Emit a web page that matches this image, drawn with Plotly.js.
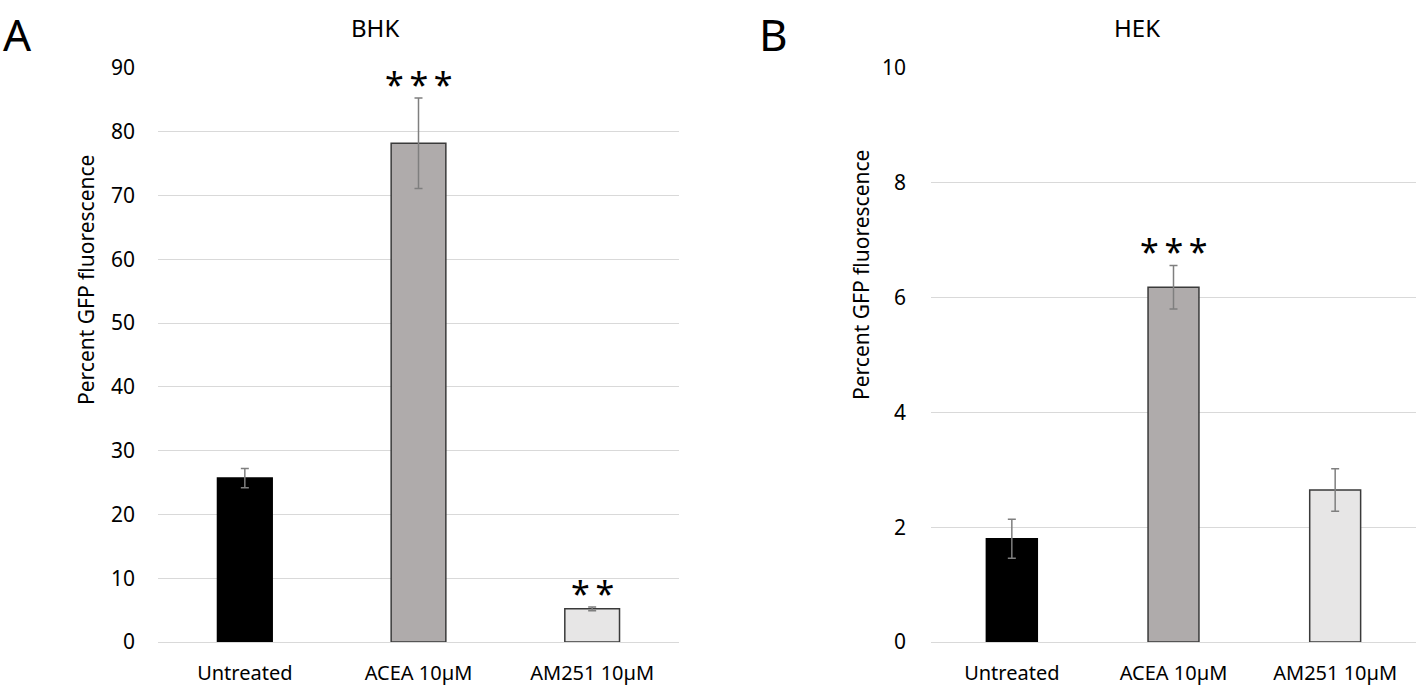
<!DOCTYPE html>
<html>
<head>
<meta charset="utf-8">
<script src="https://cdn.plot.ly/plotly-3.0.1.min.js"></script>
<style>html,body{margin:0;padding:0;background:#fff;}#chart{width:1418px;height:690px;}</style>
</head>
<body>
<div id="chart"></div>
<script>
const categories = ["Untreated", "ACEA 10µM", "AM251 10µM"];
const bhkValues = [25.7, 78.2, 5.2];
const bhkErrors = [1.5, 7.1, 0.3];
const hekValues = [1.80, 6.18, 2.65];
const hekErrors = [0.34, 0.38, 0.37];
const bhkStars = ["", "***", "**"];
const hekStars = ["", "***", ""];
const barColors = ["#000000", "#AFABAB", "#E7E6E6"];
const lineColors = ["#000000", "#3a3a3a", "#3a3a3a"];

const font = "Noto Sans, Open Sans, sans-serif";

function starText(s) { return s.split("").join("\u2009"); }

function barTrace(vals, errs, xa, ya) {
  return {
    type: "bar", x: categories, y: vals, xaxis: xa, yaxis: ya,
    width: 0.315,
    marker: {color: barColors, line: {color: lineColors, width: 1.5}},
    error_y: {type: "data", array: errs, visible: true, color: "#7f7f7f", thickness: 1.5, width: 4},
    hoverinfo: "skip", showlegend: false
  };
}

const data = [barTrace(bhkValues, bhkErrors, "x", "y"), barTrace(hekValues, hekErrors, "x2", "y2")];

const annotations = [];
categories.forEach((c, i) => {
  if (bhkStars[i]) annotations.push({x: c, y: bhkValues[i] + bhkErrors[i], xref: "x", yref: "y", text: starText(bhkStars[i]), showarrow: false, yanchor: "bottom", yshift: -11, font: {family: font, size: 34, color: "#000"}});
  if (hekStars[i]) annotations.push({x: c, y: hekValues[i] + hekErrors[i], xref: "x2", yref: "y2", text: starText(hekStars[i]), showarrow: false, yanchor: "bottom", yshift: -11, font: {family: font, size: 34, color: "#000"}});
});
annotations.push(
  {x: 0.0, y: 1.0, xref: "paper", yref: "paper", xanchor: "left", yanchor: "top", text: "A", showarrow: false, xshift: 1, yshift: 66, font: {family: font, size: 44, color: "#000"}},
  {x: 757/1418, y: 1.0, xref: "paper", yref: "paper", xanchor: "left", yanchor: "top", text: "B", showarrow: false, xshift: 0, yshift: 66, font: {family: font, size: 44, color: "#000"}},
  {x: 375/1418, y: 1.0, xref: "paper", yref: "paper", xanchor: "center", yanchor: "middle", text: "BHK", showarrow: false, yshift: 41, font: {family: font, size: 24, color: "#000"}},
  {x: 1137/1418, y: 1.0, xref: "paper", yref: "paper", xanchor: "center", yanchor: "middle", text: "HEK", showarrow: false, yshift: 41, font: {family: font, size: 24, color: "#000"}},
  {x: 86/1418, y: (642-280)/574, xref: "paper", yref: "paper", xanchor: "center", yanchor: "middle", text: "Percent GFP fluorescence", textangle: -90, showarrow: false, font: {family: font, size: 21, color: "#000"}},
  {x: 861/1418, y: (642-275)/574, xref: "paper", yref: "paper", xanchor: "center", yanchor: "middle", text: "Percent GFP fluorescence", textangle: -90, showarrow: false, font: {family: font, size: 21, color: "#000"}}
);

const yCommon = {showline: false, zeroline: true, zerolinecolor: "#d9d9d9", zerolinewidth: 1, gridcolor: "#d9d9d9", gridwidth: 1, ticks: "", tickfont: {family: font, size: 21, color: "#000"}, ticklabelstandoff: 22, fixedrange: true};
const xCommon = {showline: false, showgrid: false, zeroline: false, ticks: "", tickfont: {family: font, size: 20, color: "#000"}, ticklabelstandoff: 17, range: [-0.5, 2.5], fixedrange: true};

const layout = {
  width: 1418, height: 690,
  margin: {l: 0, r: 0, t: 68, b: 48},
  paper_bgcolor: "#fff", plot_bgcolor: "#fff",
  xaxis: Object.assign({}, xCommon, {domain: [158/1418, 679/1418], anchor: "y"}),
  yaxis: Object.assign({}, yCommon, {range: [0, 90], dtick: 10, tick0: 0, anchor: "x"}),
  xaxis2: Object.assign({}, xCommon, {domain: [931/1418, 1416/1418], anchor: "y2"}),
  yaxis2: Object.assign({}, yCommon, {range: [0, 10], dtick: 2, tick0: 0, anchor: "x2", ticklabelstandoff: 24}),
  annotations: annotations,
  bargap: 0.685
};

Plotly.newPlot("chart", data, layout, {displayModeBar: false, staticPlot: true});
</script>
</body>
</html>
